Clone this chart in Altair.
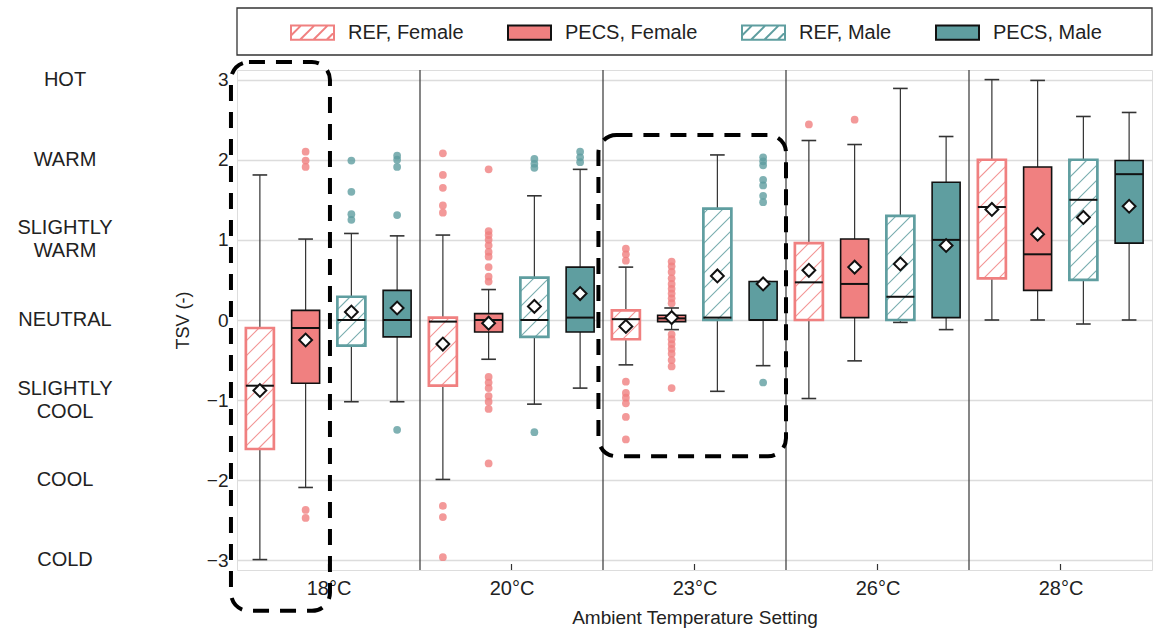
import math
import altair as alt
import pandas as pd

# ---------------- data ----------------
temps = ["18°C", "20°C", "23°C", "26°C", "28°C"]
series = ["REF, Female", "PECS, Female", "REF, Male", "PECS, Male"]

q1 = {
    "REF, Female":  [-1.61, -0.82, -0.24, 0.00, 0.52],
    "PECS, Female": [-0.79, -0.15, -0.02, 0.03, 0.37],
    "REF, Male":    [-0.32, -0.21, 0.00, 0.00, 0.50],
    "PECS, Male":   [-0.21, -0.15, 0.00, 0.03, 0.96],
}
q3 = {
    "REF, Female":  [-0.10, 0.03, 0.12, 0.96, 2.00],
    "PECS, Female": [0.12, 0.08, 0.06, 1.01, 1.91],
    "REF, Male":    [0.29, 0.53, 1.39, 1.30, 2.00],
    "PECS, Male":   [0.37, 0.66, 0.48, 1.72, 1.99],
}
median = {
    "REF, Female":  [-0.82, -0.02, 0.01, 0.47, 1.41],
    "PECS, Female": [-0.10, 0.00, 0.02, 0.45, 0.82],
    "REF, Male":    [0.00, 0.00, 0.03, 0.29, 1.50],
    "PECS, Male":   [0.00, 0.03, 0.00, 1.00, 1.82],
}
mean = {
    "REF, Female":  [-0.88, -0.30, -0.08, 0.62, 1.38],
    "PECS, Female": [-0.25, -0.04, 0.03, 0.66, 1.07],
    "REF, Male":    [0.10, 0.17, 0.55, 0.70, 1.28],
    "PECS, Male":   [0.15, 0.33, 0.45, 0.93, 1.42],
}
whisker_low = {
    "REF, Female":  [-2.99, -1.99, -0.56, -0.98, 0.00],
    "PECS, Female": [-2.09, -0.49, -0.12, -0.51, 0.00],
    "REF, Male":    [-1.02, -1.05, -0.89, -0.03, -0.05],
    "PECS, Male":   [-1.02, -0.85, -0.57, -0.12, 0.00],
}
whisker_high = {
    "REF, Female":  [1.81, 1.06, 0.66, 2.24, 3.00],
    "PECS, Female": [1.01, 0.38, 0.15, 2.19, 2.99],
    "REF, Male":    [1.08, 1.55, 2.06, 2.89, 2.54],
    "PECS, Male":   [1.05, 1.88, 0.48, 2.29, 2.59],
}
outliers = {
    "REF, Female": [
        [],
        [2.08, 1.81, 1.65, 1.43, 1.34, -2.32, -2.46, -2.96],
        [0.89, 0.82, 0.74, -0.77, -0.91, -0.97, -1.04, -1.21, -1.49],
        [2.44],
        [],
    ],
    "PECS, Female": [
        [2.10, 1.99, 1.91, -2.37, -2.47],
        [1.88, 1.11, 1.06, 1.00, 0.93, 0.85, 0.79, 0.66, 0.54, 0.48,
         -0.71, -0.78, -0.85, -0.95, -1.02, -1.11, -1.79],
        [0.73, 0.67, 0.60, 0.52, 0.45, 0.39, 0.33, 0.27, 0.21,
         -0.18, -0.24, -0.30, -0.36, -0.42, -0.50, -0.58, -0.85],
        [2.50],
        [],
    ],
    "REF, Male": [
        [1.99, 1.60, 1.32, 1.25],
        [2.01, 1.95, 1.90, -1.40],
        [],
        [],
        [],
    ],
    "PECS, Male": [
        [2.05, 2.00, 1.91, 1.31, -1.37],
        [2.10, 2.03, 1.97],
        [2.03, 1.98, 1.93, 1.75, 1.68, 1.55, 1.47, -0.78],
        [],
        [],
    ],
}
tsv_values = [3, 2, 1, 0, -1, -2, -3]
tsv_names = ["HOT", "WARM", "SLIGHTLY\nWARM", "NEUTRAL", "SLIGHTLY\nCOOL", "COOL", "COLD"]
# highlighted regions (data units: x in temperature-group units, y in TSV)
highlights = [
    {"x0": -0.033, "x1": 0.508, "y0": 3.22, "y1": -3.63},
    {"x0": 1.975, "x1": 3.0, "y0": 2.31, "y1": -1.70},
]

# ---------------- styling ----------------
CORAL = "#F08080"
TEAL = "#5F9EA0"
FONT = "Liberation Sans"
TXT = "#222222"
W, H = 915, 500
X_DOM = [0, 5]
Y_DOM = [-3.12, 3.12]
BOX_HW = 0.0765
CAP_HW = 0.040
HATCH_P = 15.0
LINE_H = 23

series_color = {"REF, Female": CORAL, "PECS, Female": CORAL, "REF, Male": TEAL, "PECS, Male": TEAL}
is_ref = {s: s.startswith("REF") for s in series}

box_rows, cap_rows, out_rows = [], [], []
for si, s in enumerate(series):
    for ti, t in enumerate(temps):
        pos = ti + (si + 0.5) / len(series)
        ref = is_ref[s]
        box_rows.append(dict(
            series=s, temp=t, pos=pos, xl=pos - BOX_HW, xr=pos + BOX_HW,
            q1=q1[s][ti], q3=q3[s][ti], med=median[s][ti], mean=mean[s][ti],
            lo=whisker_low[s][ti], hi=whisker_high[s][ti],
            fill="white" if ref else series_color[s],
            stroke=series_color[s] if ref else "#111111",
            sw=2.7 if ref else 1.6,
        ))
        for v in (whisker_low[s][ti], whisker_high[s][ti]):
            cap_rows.append(dict(xl=pos - CAP_HW, xr=pos + CAP_HW, v=v))
        for v in outliers[s][ti]:
            out_rows.append(dict(series=s, pos=pos, v=v, color=series_color[s]))

boxes = pd.DataFrame(box_rows)
caps = pd.DataFrame(cap_rows)
outs = pd.DataFrame(out_rows)

# hatch segments for REF boxes (45 degree lines in screen space)
SX = W / (X_DOM[1] - X_DOM[0])
SY = H / (Y_DOM[1] - Y_DOM[0])
hatch_rows = []
for r in box_rows:
    if r["fill"] != "white":
        continue
    ul, ur = r["xl"] * SX, r["xr"] * SX
    wb, wt = r["q1"] * SY, r["q3"] * SY
    kmin = math.floor((wb - ur) / HATCH_P)
    kmax = math.ceil((wt - ul) / HATCH_P)
    for k in range(kmin, kmax + 1):
        c = k * HATCH_P
        lo = max(ul, wb - c)
        hi = min(ur, wt - c)
        if hi - lo > 1.5:
            hatch_rows.append(dict(x=lo / SX, x2=hi / SX, y=(lo + c) / SY, y2=(hi + c) / SY,
                                   stroke=r["stroke"]))
hatch = pd.DataFrame(hatch_rows)

dividers = pd.DataFrame({"b": list(range(1, len(temps)))})
centers = pd.DataFrame({"c": [i + 0.5 for i in range(len(temps))]})
labels_df = pd.DataFrame({"v": tsv_values, "name": tsv_names})
single_df = labels_df[~labels_df["name"].str.contains("\n")]
multi_df = labels_df[labels_df["name"].str.contains("\n")]
hl_df = pd.DataFrame(highlights)
one = pd.DataFrame({"a": [0]})

xs = alt.Scale(domain=X_DOM, nice=False, zero=False)
ys = alt.Scale(domain=Y_DOM, nice=False, zero=False)

label_js = "[" + ",".join("'" + t + "'" for t in temps) + "]"
x_axis = alt.Axis(
    values=[i + 0.5 for i in range(len(temps))],
    labelExpr=label_js + "[floor(datum.value)]",
    title="Ambient Temperature Setting", grid=False, ticks=False, domain=False,
    labelFontSize=20, labelPadding=8, titleFontSize=19, titlePadding=10,
    labelColor=TXT, titleColor=TXT, labelFont=FONT, titleFont=FONT, titleFontWeight="normal",
)
y_axis = alt.Axis(
    values=tsv_values, title="TSV (-)", grid=True, gridColor="#DCDCDC", gridWidth=1.3,
    ticks=False, domain=False, labelFontSize=19, labelPadding=9, titleFontSize=18,
    titlePadding=14, labelColor=TXT, titleColor=TXT, labelFont=FONT, titleFont=FONT,
    titleFontWeight="normal",
)


def X(f):
    return alt.X(f, type="quantitative", scale=xs, axis=x_axis, title="Ambient Temperature Setting")


def Y(f):
    return alt.Y(f, type="quantitative", scale=ys, axis=y_axis, title="TSV (-)")


whiskers = alt.Chart(boxes).mark_rule(color="#333333", strokeWidth=1.2).encode(
    x=X("pos"), y=Y("lo"), y2="hi")
div_layer = alt.Chart(dividers).mark_rule(color="#444444", strokeWidth=1.3).encode(x=X("b"))
cap_layer = alt.Chart(caps).mark_rule(color="#333333", strokeWidth=1.6).encode(
    x=X("xl"), x2="xr", y=Y("v"))
box_layer = alt.Chart(boxes).mark_rect().encode(
    x=X("xl"), x2="xr", y=Y("q1"), y2="q3",
    fill=alt.Fill("fill:N", scale=None),
    stroke=alt.Stroke("stroke:N", scale=None),
    strokeWidth=alt.StrokeWidth("sw:Q", scale=None),
)
hatch_layer = alt.Chart(hatch).mark_rule(strokeWidth=1.1, opacity=0.85).encode(
    x=X("x"), x2="x2", y=Y("y"), y2="y2", color=alt.Color("stroke:N", scale=None))
med_layer = alt.Chart(boxes).mark_rule(color="#111111", strokeWidth=2).encode(
    x=X("xl"), x2="xr", y=Y("med"))
out_layer = alt.Chart(outs).mark_circle(size=60, opacity=0.8).encode(
    x=X("pos"), y=Y("v"), color=alt.Color("color:N", scale=None))
mean_layer = alt.Chart(boxes).mark_point(
    shape="diamond", size=165, filled=True, fill="white", stroke="#111111", strokeWidth=2, opacity=1
).encode(x=X("pos"), y=Y("mean"))
name_single = alt.Chart(single_df).mark_text(
    align="center", baseline="middle", fontSize=20, font=FONT, color=TXT,
).encode(x=alt.value(-172), y=Y("v"), text="name:N")
name_multi = alt.Chart(multi_df).mark_text(
    align="center", baseline="middle", lineBreak="\n", fontSize=20, lineHeight=LINE_H,
    dy=-LINE_H / 2, font=FONT, color=TXT,
).encode(x=alt.value(-172), y=Y("v"), text="name:N")
tick_layer = alt.Chart(centers).mark_rule(color="#333333", strokeWidth=1.2).encode(
    x=X("c"), y=alt.value(H), y2=alt.value(H - 6))
hl_layer = alt.Chart(hl_df).mark_rect(
    fillOpacity=0, stroke="black", strokeWidth=4, strokeDash=[16, 11], cornerRadius=18
).encode(x=X("x0"), x2="x1", y=Y("y0"), y2="y1")
frame_layer = alt.Chart(one).mark_rect(fillOpacity=0, stroke="#333333", strokeWidth=1.3).encode(
    x=alt.value(0), x2=alt.value(W), y=alt.value(-62), y2=alt.value(-15))

RECT_PATH = "M-1,-0.33H1V0.33H-1Z"
HATCH_PATH = (RECT_PATH + " M-1,0.13L-0.54,-0.33 M-0.58,0.33L0.08,-0.33"
              " M0.04,0.33L0.7,-0.33 M0.66,0.33L1,-0.01")
leg = alt.Legend(
    title=None, orient="none", legendX=53, legendY=-60, direction="horizontal", columns=4,
    symbolSize=1849, symbolStrokeWidth=2, symbolOpacity=1, labelFontSize=20, labelFont=FONT,
    labelColor=TXT, labelOffset=13, columnPadding=40, labelLimit=400, padding=0,
)
legend_layer = alt.Chart(boxes).mark_point(filled=True, opacity=0).encode(
    x=X("pos"), y=Y("med"),
    fill=alt.Fill("series:N", scale=alt.Scale(domain=series, range=["white", CORAL, "white", TEAL]),
                  legend=leg),
    stroke=alt.Stroke("series:N", scale=alt.Scale(domain=series, range=[CORAL, "#111111", TEAL, "#111111"]),
                      legend=leg),
    shape=alt.Shape("series:N", scale=alt.Scale(domain=series, range=[HATCH_PATH, RECT_PATH, HATCH_PATH, RECT_PATH]),
                    legend=leg),
)

chart = alt.layer(
    whiskers, div_layer, cap_layer, box_layer, hatch_layer, med_layer, out_layer, mean_layer,
    name_single, name_multi, tick_layer, hl_layer, frame_layer, legend_layer,
).properties(
    width=W, height=H,
    autosize=alt.AutoSizeParams(type="none"),
    padding={"left": 237, "top": 70, "right": 11, "bottom": 62},
).configure_view(stroke="#333333", strokeWidth=1.3).configure(font=FONT)

chart.save("out.html", embed_options={"renderer": "svg", "actions": False})
